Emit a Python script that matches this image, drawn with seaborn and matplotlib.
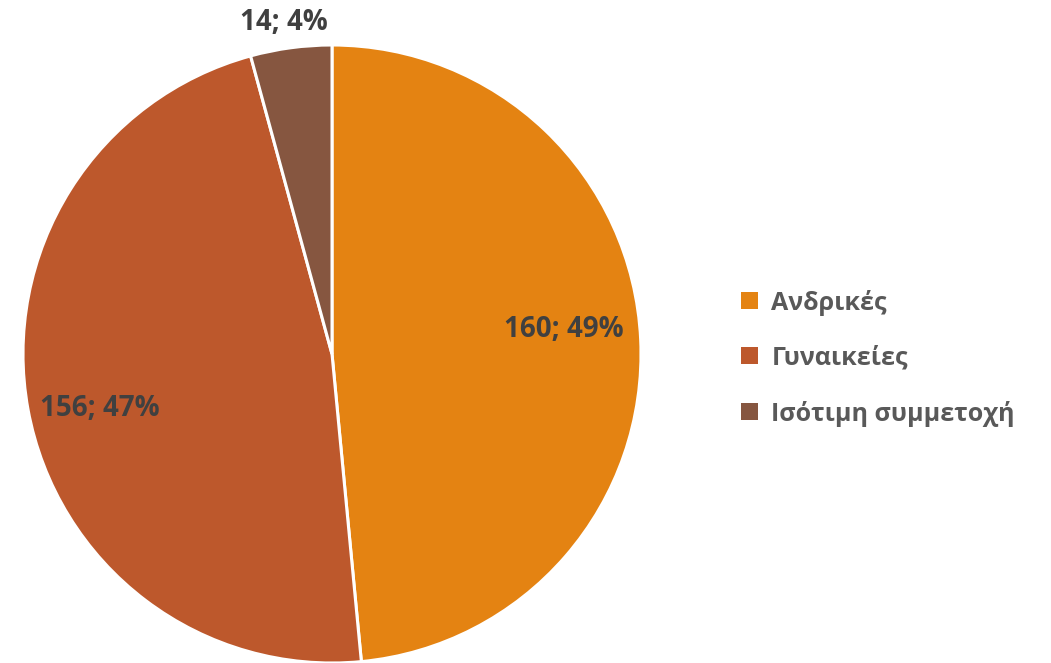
import numpy as np
import matplotlib.pyplot as plt
import seaborn as sns

# δεδομένα
kathgories = ['Ανδρικές', 'Γυναικείες', 'Ισότιμη συμμετοχή']
times = [160, 156, 14]
pososta = [49, 47, 4]
xrwmata = ['#E48312', '#BD582C', '#865640']

sns.set_theme(style='white')
plt.rcParams['font.family'] = ['Open Sans', 'DejaVu Sans']

fig = plt.figure(figsize=(10.51, 6.63), dpi=100)
ax = fig.add_axes([0, 0, 1, 1])

kentro = (332, 309)
aktina = 309
wedges, _ = ax.pie(times, colors=xrwmata, startangle=90, counterclock=False,
                   center=kentro, radius=aktina, frame=True,
                   wedgeprops=dict(edgecolor='white', linewidth=2.2))
ax.set_xlim(0, 1051)
ax.set_ylim(0, 663)
ax.set_aspect('equal')
ax.axis('off')

# θέση ετικετών: απόσταση από κέντρο και μικρή στροφή
apostaseis = [0.755, 0.772, 1.085]
strofi = [3.4, 2.9, 0.6]
for w, v, p, d, s in zip(wedges, times, pososta, apostaseis, strofi):
    gwnia = np.deg2rad((w.theta1 + w.theta2) / 2 + s)
    x = kentro[0] + d * aktina * np.cos(gwnia)
    y = kentro[1] + d * aktina * np.sin(gwnia)
    ax.text(x, y, f'{v}; {p}%', ha='center', va='center',
            fontsize=20, fontweight='bold', color='#404040')

leg = ax.legend(wedges, kathgories, loc='center left',
                bbox_to_anchor=(0.684, 0.46), frameon=False, fontsize=18,
                handlelength=0.65, handleheight=0.65, handletextpad=0.55,
                labelspacing=1.2)
for t in leg.get_texts():
    t.set_color('#595959')
    t.set_fontweight('bold')
for h in leg.legend_handles:
    h.set_edgecolor('none')

fig.savefig('out.png', dpi=100)
